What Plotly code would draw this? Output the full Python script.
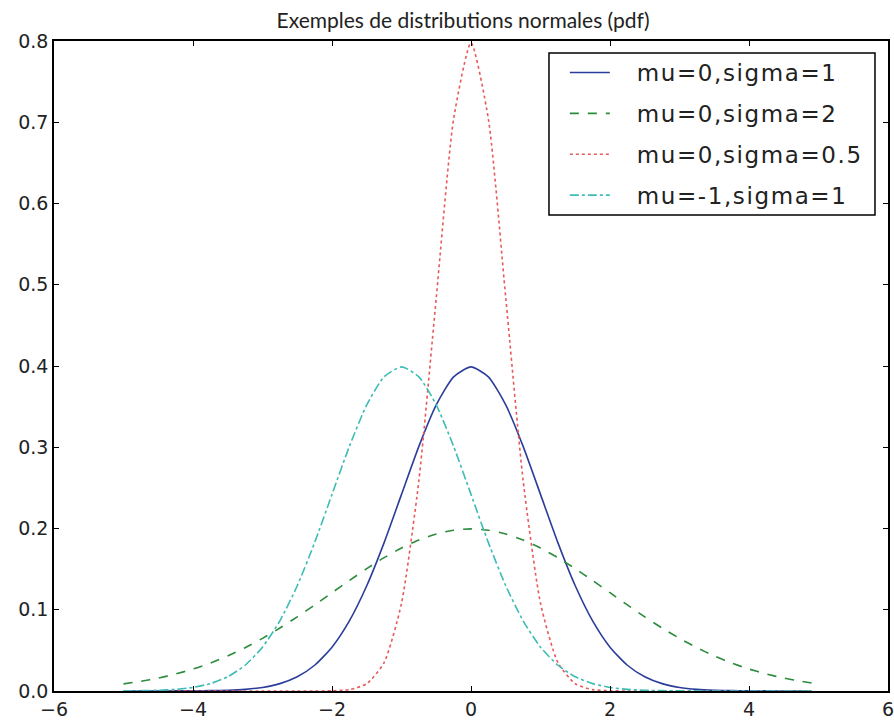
import plotly.graph_objects as go

x_vals = [-5.0, -4.75, -4.5, -4.25, -4.0, -3.75, -3.5, -3.25, -3.0, -2.75, -2.5, -2.25,
          -2.0, -1.75, -1.5, -1.25, -1.0, -0.75, -0.5, -0.25, 0.0, 0.25, 0.5, 0.75,
          1.0, 1.25, 1.5, 1.75, 2.0, 2.25, 2.5, 2.75, 3.0, 3.25, 3.5, 3.75, 4.0, 4.25,
          4.5, 4.75, 4.9]

pdf_mu0_s1 = [0.0000, 0.0000, 0.0000, 0.0001, 0.0001, 0.0004, 0.0009, 0.0020, 0.0044, 0.0091,
              0.0175, 0.0317, 0.0540, 0.0863, 0.1295, 0.1826, 0.2420, 0.3011, 0.3521, 0.3867,
              0.3989, 0.3867, 0.3521, 0.3011, 0.2420, 0.1826, 0.1295, 0.0863, 0.0540, 0.0317,
              0.0175, 0.0091, 0.0044, 0.0020, 0.0009, 0.0004, 0.0001, 0.0001, 0.0000, 0.0000,
              0.0000]

pdf_mu0_s2 = [0.0088, 0.0119, 0.0159, 0.0209, 0.0270, 0.0344, 0.0431, 0.0533, 0.0648, 0.0775,
              0.0913, 0.1059, 0.1210, 0.1360, 0.1506, 0.1641, 0.1760, 0.1859, 0.1933, 0.1979,
              0.1995, 0.1979, 0.1933, 0.1859, 0.1760, 0.1641, 0.1506, 0.1360, 0.1210, 0.1059,
              0.0913, 0.0775, 0.0648, 0.0533, 0.0431, 0.0344, 0.0270, 0.0209, 0.0159, 0.0119,
              0.0099]

pdf_mu0_s05 = [0.0, 0.0, 0.0, 0.0, 0.0, 0.0, 0.0, 0.0, 0.0, 0.0, 0.0, 0.0,
               0.0003, 0.0017, 0.0089, 0.0350, 0.1080, 0.2590, 0.4839, 0.7041,
               0.7979, 0.7041, 0.4839, 0.2590, 0.1080, 0.0350, 0.0089, 0.0017, 0.0003,
               0.0, 0.0, 0.0, 0.0, 0.0, 0.0, 0.0, 0.0, 0.0, 0.0, 0.0, 0.0]

pdf_mum1_s1 = [0.0001, 0.0004, 0.0009, 0.0020, 0.0044, 0.0091, 0.0175, 0.0317, 0.0540, 0.0863,
               0.1295, 0.1826, 0.2420, 0.3011, 0.3521, 0.3867, 0.3989, 0.3867, 0.3521, 0.3011,
               0.2420, 0.1826, 0.1295, 0.0863, 0.0540, 0.0317, 0.0175, 0.0091, 0.0044, 0.0020,
               0.0009, 0.0004, 0.0001, 0.0001, 0.0, 0.0, 0.0, 0.0, 0.0, 0.0, 0.0]

series_names = ["mu=0,sigma=1", "mu=0,sigma=2", "mu=0,sigma=0.5", "mu=-1,sigma=1"]
series_values = [pdf_mu0_s1, pdf_mu0_s2, pdf_mu0_s05, pdf_mum1_s1]
series_colors = ["#2b3d9a", "#2a8c3c", "#e85a5a", "#3cbcb4"]
series_dashes = ["solid", "dash", "dot", "dashdot"]

x_ticks = [-6, -4, -2, 0, 2, 4, 6]
x_ticktext = ["\u22126", "\u22124", "\u22122", "0", "2", "4", "6"]
y_ticks = [0.0, 0.1, 0.2, 0.3, 0.4, 0.5, 0.6, 0.7, 0.8]

fig = go.Figure()
for i, (name, ys, color, dash) in enumerate(zip(series_names, series_values,
                                                 series_colors, series_dashes)):
    label = "&nbsp;&nbsp;&nbsp;<span style=\"letter-spacing:1.6px\">" + name + "</span>"
    fig.add_trace(go.Scatter(
        x=x_vals, y=ys, mode="lines", name=label, legendgroup=f"g{i}",
        line=dict(color=color, width=1.6, dash=dash, shape="spline", smoothing=0.6),
    ))

axis_common = dict(
    showline=True, linecolor="black", linewidth=1.5, mirror="ticks",
    ticks="inside", ticklen=5, tickcolor="black", tickwidth=1,
    showgrid=False, zeroline=False, automargin=False,
    ticklabeloverflow="allow",
    tickfont=dict(family="DejaVu Sans", size=19, color="#222"),
)

# legend frame (pixel box 549..875 x 53..215 converted to paper coords)
fig.add_shape(type="rect", xref="paper", yref="paper",
              x0=0.5935, x1=0.9844, y0=0.7323, y1=0.9815,
              line=dict(color="black", width=1.5), fillcolor="white", layer="above")

fig.update_layout(
    width=894, height=721,
    margin=dict(l=54, r=6, t=41, b=30),
    paper_bgcolor="white", plot_bgcolor="white",
    title=dict(text="Exemples de distributions normales (pdf)",
               font=dict(family="Lato", size=21, color="#222"),
               x=0.518, xanchor="center", y=0.972, yanchor="middle"),
    xaxis=dict(range=[-6, 6], tickvals=x_ticks, ticktext=x_ticktext,
               ticklabelstandoff=0, **axis_common),
    yaxis=dict(range=[0, 0.8], tickvals=y_ticks, ticktext=[f"{v:.1f}" for v in y_ticks],
               **axis_common),
    legend=dict(x=0.6125, y=0.9846, xanchor="left", yanchor="top",
                borderwidth=0, bgcolor="rgba(0,0,0,0)",
                font=dict(family="DejaVu Sans", size=23, color="#222"),
                tracegroupgap=8, itemwidth=40, traceorder="grouped"),
    showlegend=True,
)

fig.write_html("out.html")
